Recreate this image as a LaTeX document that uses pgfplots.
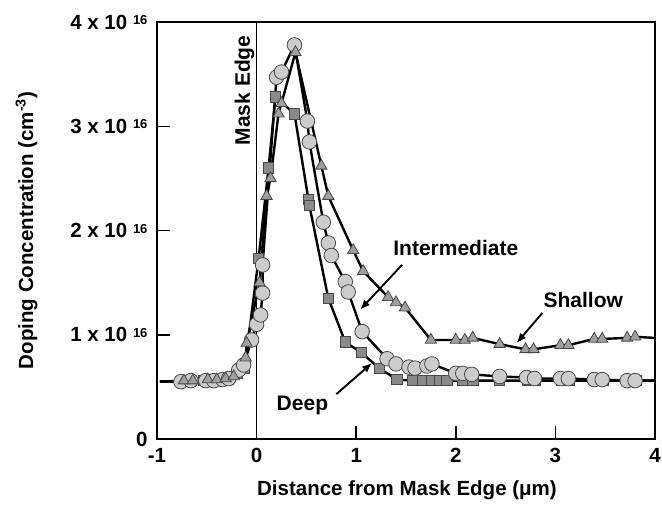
\documentclass[border=0pt]{standalone}
\usepackage{fontspec}
\setmainfont{Liberation Sans}
\usepackage{pgfplots}
\pgfplotsset{compat=1.18}
\usetikzlibrary{calc,arrows.meta}
\newcommand\ylab[1]{#1 x 10 \raisebox{4.5pt}{\fontsize{13}{13}\selectfont 16}}
\definecolor{circfill}{HTML}{CCCCCC}
\definecolor{sqfill}{HTML}{8A8A8A}
\definecolor{trifill}{HTML}{A0A0A0}
\definecolor{edge}{HTML}{484848}
\begin{document}
\begin{tikzpicture}
\begin{axis}[name=ax, scale only axis, width=498pt, height=417pt,
  xmin=-1, xmax=4, ymin=0, ymax=4,
  axis line style={line width=1.5pt},
  xtick={-1,0,1,2,3,4}, xticklabels={-1,0,1,2,\raisebox{-7pt}{3},4},
  ytick={0,1,2,3,4}, yticklabels={0,\ylab{1},\ylab{2},\ylab{3},\ylab{4}},
  tick align=inside, xtick pos=bottom, ytick pos=left,
  major tick length=13pt, tick style={line width=1.5pt, black},
  ticklabel style={font=\fontsize{20.5}{24}\selectfont\bfseries},
  yticklabel style={xshift=-6pt},
  xticklabel style={yshift=-6pt},
  xlabel={Distance from Mask Edge (μm)},
  ylabel={Doping Concentration (cm\textsuperscript{-3})},
  xlabel style={font=\fontsize{20.5}{24}\selectfont\bfseries, at={(axis description cs:0.502,-0.124)}, anchor=center},
  ylabel style={font=\fontsize{20.5}{24}\selectfont\bfseries, at={(axis description cs:-0.262,0.50)}, anchor=center},
]
% mask edge line
\addplot[black, line width=1.1pt, no marks] coordinates {(0,0) (0,4)};

% ---- lines ----
% Deep (squares)
\addplot[black, line width=2.4pt, no marks] coordinates {
(-0.97,0.55) (-0.76,0.55) (-0.67,0.55) (-0.53,0.56) (-0.47,0.56) (-0.34,0.57) (-0.29,0.57)
(-0.19,0.63) (-0.12,0.68) (0.02,1.73) (0.12,2.60) (0.19,3.28) (0.38,3.12) (0.52,2.30) (0.53,2.24)
(0.72,1.35) (0.89,0.93) (1.05,0.83) (1.23,0.68) (1.41,0.57) (1.57,0.56) (1.67,0.56) (1.76,0.56)
(1.84,0.56) (1.91,0.56) (2.07,0.56) (2.17,0.56) (2.44,0.56) (2.72,0.56) (2.80,0.56) (3.06,0.56)
(3.14,0.56) (3.40,0.56) (3.48,0.56) (3.73,0.56) (3.81,0.56) (4.00,0.56)};
% Intermediate (circles)
\addplot[black, line width=2.4pt, no marks] coordinates {
(-0.97,0.55) (-0.76,0.55) (-0.66,0.56) (-0.51,0.56) (-0.43,0.56) (-0.34,0.57) (-0.28,0.58)
(-0.18,0.66) (-0.13,0.71) (-0.05,0.95) (0.00,1.10) (0.04,1.19) (0.06,1.40) (0.06,1.67)
(0.20,3.47) (0.25,3.52) (0.38,3.78) (0.51,3.05) (0.53,2.85) (0.67,2.08) (0.72,1.88) (0.75,1.76)
(0.89,1.51) (0.92,1.41) (1.06,1.03) (1.31,0.77) (1.40,0.72) (1.53,0.69) (1.59,0.68) (1.71,0.70)
(1.76,0.72) (2.00,0.63) (2.07,0.63) (2.16,0.62) (2.44,0.60) (2.71,0.59) (2.79,0.58) (3.05,0.58)
(3.13,0.58) (3.39,0.57) (3.47,0.57) (3.72,0.56) (3.80,0.56) (4.00,0.56)};
% Shallow (triangles)
\addplot[black, line width=2.4pt, no marks] coordinates {
(-0.97,0.55) (-0.73,0.56) (-0.64,0.56) (-0.49,0.57) (-0.40,0.57) (-0.31,0.58) (-0.23,0.60)
(-0.11,0.78) (-0.10,0.92) (0.03,1.50) (0.10,2.33) (0.14,2.50) (0.22,3.12) (0.25,3.22) (0.39,3.71)
(0.65,2.62) (0.72,2.33) (0.97,1.81) (1.07,1.61) (1.32,1.36) (1.40,1.31) (1.49,1.26) (1.75,0.95)
(2.00,0.95) (2.09,0.95) (2.17,0.97) (2.44,0.91) (2.70,0.86) (2.78,0.86) (3.05,0.90) (3.13,0.90)
(3.39,0.96) (3.47,0.96) (3.72,0.97) (3.80,0.98) (4.00,0.97)};

% ---- markers ----
\addplot[only marks, mark=square*, mark size=5.2pt, mark options={fill=sqfill, draw=edge, line width=0.8pt}] coordinates {
(-0.76,0.55) (-0.67,0.55) (-0.53,0.56) (-0.47,0.56) (-0.34,0.57) (-0.29,0.57)
(-0.19,0.63) (-0.12,0.68) (0.02,1.73) (0.12,2.60) (0.19,3.28) (0.38,3.12) (0.52,2.30) (0.53,2.24)
(0.72,1.35) (0.89,0.93) (1.05,0.83) (1.23,0.68) (1.41,0.57) (1.57,0.56) (1.67,0.56) (1.76,0.56)
(1.84,0.56) (1.91,0.56) (2.07,0.56) (2.17,0.56) (2.44,0.56) (2.72,0.56) (2.80,0.56) (3.06,0.56)
(3.14,0.56) (3.40,0.56) (3.48,0.56) (3.73,0.56) (3.81,0.56)};
\addplot[only marks, mark=*, mark size=7.3pt, mark options={fill=circfill, draw=edge, line width=0.8pt}] coordinates {
(-0.76,0.55) (-0.66,0.56) (-0.51,0.56) (-0.43,0.56) (-0.34,0.57) (-0.28,0.58)
(-0.18,0.66) (-0.13,0.71) (-0.05,0.95) (0.00,1.10) (0.04,1.19) (0.06,1.40) (0.06,1.67)
(0.20,3.47) (0.25,3.52) (0.38,3.78) (0.51,3.05) (0.53,2.85) (0.67,2.08) (0.72,1.88) (0.75,1.76)
(0.89,1.51) (0.92,1.41) (1.06,1.03) (1.31,0.77) (1.40,0.72) (1.53,0.69) (1.59,0.68) (1.71,0.70)
(1.76,0.72) (2.00,0.63) (2.07,0.63) (2.16,0.62) (2.44,0.60) (2.71,0.59) (2.79,0.58) (3.05,0.58)
(3.13,0.58) (3.39,0.57) (3.47,0.57) (3.72,0.56) (3.80,0.56)};
\addplot[only marks, mark=triangle*, mark size=6.5pt, mark options={fill=trifill, draw=edge, line width=0.8pt}] coordinates {
(-0.73,0.56) (-0.64,0.56) (-0.49,0.57) (-0.40,0.57) (-0.31,0.58) (-0.23,0.60)
(-0.11,0.78) (-0.10,0.92) (0.03,1.50) (0.10,2.33) (0.14,2.50) (0.22,3.12) (0.25,3.22) (0.39,3.71)
(0.65,2.62) (0.72,2.33) (0.97,1.81) (1.07,1.61) (1.32,1.36) (1.40,1.31) (1.49,1.26) (1.75,0.95)
(2.00,0.95) (2.09,0.95) (2.17,0.97) (2.44,0.91) (2.70,0.86) (2.78,0.86) (3.05,0.90) (3.13,0.90)
(3.39,0.96) (3.47,0.96) (3.72,0.97) (3.80,0.98)};

% ---- annotations ----
\node[rotate=90, anchor=south east, font=\fontsize{21}{24}\selectfont\bfseries, inner sep=2pt, xshift=-2pt] at (axis cs:0,3.91) {Mask Edge};
\node[font=\fontsize{21}{24}\selectfont\bfseries] at (axis cs:2.0,1.83) {Intermediate};
\node[font=\fontsize{21}{24}\selectfont\bfseries] at (axis cs:3.28,1.33) {Shallow};
\node[font=\fontsize{21}{24}\selectfont\bfseries] at (axis cs:0.46,0.32) {Deep};
\draw[line width=1.9pt, -{Latex[length=10pt,width=8pt]}] (axis cs:1.46,1.67) -- (axis cs:1.04,1.24);
\draw[line width=1.9pt, -{Latex[length=10pt,width=8pt]}] (axis cs:2.87,1.21) -- (axis cs:2.61,0.92);
\draw[line width=1.9pt, -{Latex[length=10pt,width=8pt]}] (axis cs:0.80,0.43) -- (axis cs:1.16,0.73);
\end{axis}
\pgfresetboundingbox
\path ($(ax.south west)+(-157pt,-65pt)$) rectangle ($(ax.north east)+(7pt,22pt)$);
\end{tikzpicture}
\end{document}
